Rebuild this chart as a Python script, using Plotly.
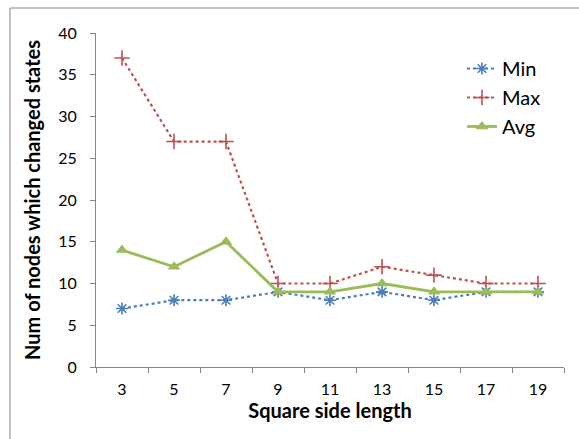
import plotly.graph_objects as go

categories = ["3", "5", "7", "9", "11", "13", "15", "17", "19"]
min_vals = [7, 8, 8, 9, 8, 9, 8, 9, 9]
max_vals = [37, 27, 27, 10, 10, 12, 11, 10, 10]
avg_vals = [14, 12, 15, 9, 9, 10, 9, 9, 9]

FONT = "Lato, Open Sans, sans-serif"

fig = go.Figure()
fig.add_trace(go.Scatter(
    x=categories, y=min_vals, name="Min", mode="lines+markers",
    line=dict(color="#4A7EBB", width=2.2, dash="dot"),
    marker=dict(symbol="asterisk-open", size=10, color="#4A7EBB",
                line=dict(color="#4A7EBB", width=1.6)),
))
fig.add_trace(go.Scatter(
    x=categories, y=max_vals, name="Max", mode="lines+markers",
    line=dict(color="#C0504D", width=2.2, dash="dot"),
    marker=dict(symbol="cross-thin-open", size=11, color="#C0504D",
                line=dict(color="#C0504D", width=1.6)),
))
fig.add_trace(go.Scatter(
    x=categories, y=avg_vals, name="Avg", mode="lines+markers",
    line=dict(color="#9BBB59", width=2.8),
    marker=dict(symbol="triangle-up", size=11, color="#9BBB59"),
))

L, R, T, B = 96, 15, 33, 72
W, H = 579, 439
pw, ph = W - L - R, H - T - B

fig.update_layout(
    width=W, height=H,
    margin=dict(l=L, r=R, t=T, b=B, pad=0),
    paper_bgcolor="white", plot_bgcolor="white",
    font=dict(family=FONT, size=16, color="#000000"),
    showlegend=True,
    legend=dict(x=(462 - L) / pw, y=1 - (49 - T) / ph, xanchor="left", yanchor="top",
                font=dict(size=20, family=FONT), itemwidth=30,
                bgcolor="rgba(0,0,0,0)"),
    xaxis=dict(
        type="category", showgrid=False, showline=True, linecolor="#868686", linewidth=1,
        ticks="outside", tickson="boundaries", ticklen=5, tickcolor="#868686",
        ticklabelstandoff=8,
        title=dict(text="<b>Square side length</b>", font=dict(size=20, family=FONT), standoff=6),
        range=[-0.5, 8.5],
    ),
    yaxis=dict(
        range=[0, 40], dtick=5, showgrid=False, zeroline=False, showline=True,
        linecolor="#868686", linewidth=1, ticks="outside", ticklen=5, tickcolor="#868686",
        ticklabelstandoff=10,
        title=dict(text="<b>Num of nodes which changed states</b>", font=dict(size=20, family=FONT), standoff=12),
    ),
    shapes=[dict(
        type="rect", xref="paper", yref="paper",
        x0=(10 - L) / pw, x1=(W + 20 - L) / pw,
        y0=1 - (H + 20 - T) / ph, y1=1 + (T - 8) / ph,
        line=dict(color="#868686", width=1), fillcolor="rgba(0,0,0,0)", layer="below",
    )],
)

fig.write_html("out.html")
